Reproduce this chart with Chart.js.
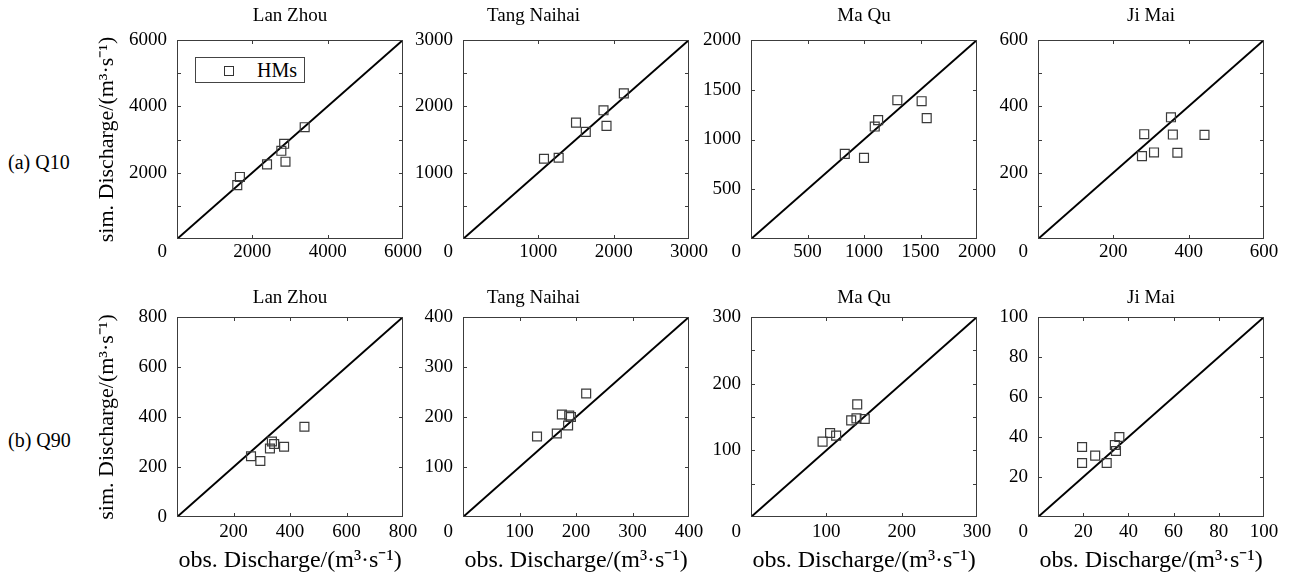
<!DOCTYPE html>
<html>
<head>
<meta charset="utf-8">
<title>Q10 / Q90 discharge</title>
<script src="https://cdn.jsdelivr.net/npm/chart.js@4.4.1/dist/chart.umd.min.js"></script>
<style>
  body { margin: 0; background: #fff; width: 1291px; height: 573px; position: relative; overflow: hidden;
         font-family: 'Liberation Serif', 'Times New Roman', serif; color: #000; }
  .panel { position: absolute; }
  .rowlabel { position: absolute; left: 8px; font-size: 20px; line-height: 24px; white-space: nowrap; }
  #legend { position: absolute; left: 195px; top: 57px; width: 108px; height: 24px; border: 1px solid #444;
            background: #fff; z-index: 5; font-size: 20px; line-height: 24px; }
  #legend .mark { position: absolute; left: 28px; top: 8px; width: 8px; height: 8px; border: 1px solid #333; }
  #legend .txt { position: absolute; left: 61px; top: 0; }
</style>
</head>
<body>
<div class="rowlabel" style="top:150px">(a) Q10</div>
<div class="rowlabel" style="top:428px">(b) Q90</div>
<div id="legend"><span class="mark"></span><span class="txt">HMs</span></div>

<script>
// stations, one column each
const stations = ['Lan Zhou', 'Tang Naihai', 'Ma Qu', 'Ji Mai'];

// Q10: observed (x) vs simulated (y) discharge, m3/s
const lanZhouQ10Obs = [3390, 2845, 2770, 2880, 2390, 1670, 1600];
const lanZhouQ10Sim = [3370, 2870, 2660, 2330, 2250, 1870, 1625];
const tangNaihaiQ10Obs = [2135, 1865, 1905, 1500, 1630, 1270, 1075];
const tangNaihaiQ10Sim = [2195, 1940, 1705, 1755, 1615, 1225, 1210];
const maQuQ10Obs = [1295, 1510, 1555, 1125, 1095, 830, 1000];
const maQuQ10Sim = [1395, 1385, 1215, 1195, 1130, 855, 815];
const jiMaiQ10Obs = [353, 282, 358, 442, 308, 370, 276];
const jiMaiQ10Sim = [367, 316, 315, 314, 261, 260, 250];

// Q90
const lanZhouQ90Obs = [451, 336, 344, 329, 379, 262, 295];
const lanZhouQ90Sim = [361, 302, 292, 274, 281, 243, 224];
const tangNaihaiQ90Obs = [218, 175, 188, 191, 186, 166, 131];
const tangNaihaiQ90Sim = [247, 205, 203, 200, 183, 167, 161];
const maQuQ90Obs = [141, 133, 140, 151, 105, 113, 95];
const maQuQ90Sim = [169, 145, 148, 147, 126, 122, 113];
const jiMaiQ90Obs = [36, 34, 34.5, 19.5, 25.3, 30.4, 19.5];
const jiMaiQ90Sim = [40, 36, 33, 35, 30.7, 27, 27];

// axis ranges and tick spacing per column
const q10Max = [6000, 3000, 2000, 600];
const q10XStep = [2000, 1000, 500, 200];
const q10YStep = [1000, 500, 500, 100];
const q10YLabelEvery = [2000, 1000, 500, 200];
const q90Max = [800, 400, 300, 100];
const q90XStep = [200, 100, 100, 20];
const q90YStep = [200, 100, 50, 20];
const q90YLabelEvery = [200, 100, 100, 20];

const unitText = 'Discharge/(m\u00b3\u00b7s\u207b\u00b9)';
const serif = "'Liberation Serif', 'Times New Roman', serif";
const tickSize = 19;

Chart.defaults.color = '#000';
Chart.defaults.font.family = serif;
Chart.defaults.font.size = tickSize;

// box around the plot with inward ticks on all four sides
const frameTicks = {
  id: 'frameTicks',
  afterDraw(chart, args, opts) {
    const { ctx, chartArea: a, scales: { x, y } } = chart;
    ctx.save();
    ctx.strokeStyle = '#3c3c3c';
    ctx.lineWidth = 1;
    ctx.beginPath();
    x.ticks.forEach(t => {
      const px = Math.round(x.getPixelForValue(t.value)) + 0.5;
      if (px <= a.left + 2 || px >= a.right - 2) return;
      ctx.moveTo(px, a.bottom); ctx.lineTo(px, a.bottom - 4);
      ctx.moveTo(px, a.top); ctx.lineTo(px, a.top + 4);
    });
    y.ticks.forEach(t => {
      const py = Math.round(y.getPixelForValue(t.value)) + 0.5;
      if (py <= a.top + 2 || py >= a.bottom - 2) return;
      ctx.moveTo(a.left, py); ctx.lineTo(a.left + 4, py);
      ctx.moveTo(a.right, py); ctx.lineTo(a.right - 4, py);
    });
    ctx.stroke();
    ctx.strokeRect(a.left + 0.5, a.top + 0.5, a.width - 1, a.height - 1);
    // shared zero in the lower-left corner
    if (opts.zero) {
      ctx.fillStyle = '#000';
      ctx.font = tickSize + 'px ' + serif;
      ctx.textAlign = 'right';
      ctx.textBaseline = 'middle';
      ctx.fillText('0', a.left - 10, a.bottom + opts.gap + tickSize * 0.6);
    }
    ctx.restore();
  }
};
Chart.register(frameTicks);

const colLeft = [177, 463, 751, 1038];
const rowTop = [40, 317];
const plotW = 226;

function makePanel(row, col, obs, sim, max, xStep, yStep, yLabelEvery) {
  const padL = 85, padT = 40, padR = 50;
  const padB = row === 0 ? 30 : 58;
  const plotH = row === 0 ? 199 : 200;
  const labelGap = row === 0 ? 2 : 4;
  const keepYZero = row === 1 && col === 0;

  const div = document.createElement('div');
  div.className = 'panel';
  div.style.left = (colLeft[col] - padL) + 'px';
  div.style.top = (rowTop[row] - padT) + 'px';
  const canvas = document.createElement('canvas');
  canvas.width = padL + plotW + padR;
  canvas.height = padT + plotH + padB;
  div.appendChild(canvas);
  document.body.appendChild(div);

  const points = obs.map((v, i) => ({ x: v, y: sim[i] }));

  new Chart(canvas, {
    type: 'scatter',
    data: {
      datasets: [
        {
          label: 'HMs',
          data: points,
          pointStyle: 'rect',
          pointRadius: 6.3,
          pointBorderWidth: 1.2,
          borderColor: '#3a3a3a',
          backgroundColor: 'rgba(0,0,0,0)',
          order: 1
        },
        {
          type: 'line',
          label: '1:1',
          data: [{ x: 0, y: 0 }, { x: max, y: max }],
          borderColor: '#000',
          borderWidth: 2,
          pointRadius: 0,
          order: 2
        }
      ]
    },
    options: {
      responsive: false,
      animation: false,
      layout: { padding: { right: padR } },
      plugins: {
        legend: { display: false },
        tooltip: { enabled: false },
        title: {
          display: true,
          text: stations[col],
          // Tang Naihai sits over the whole panel incl. its tick labels
          fullSize: col === 1,
          font: { size: 19, weight: 'normal' },
          padding: row === 0 ? { top: 4.6, bottom: 12.6 } : { top: 9.6, bottom: 7.6 }
        },
        frameTicks: { zero: !keepYZero, gap: labelGap }
      },
      scales: {
        x: {
          type: 'linear',
          min: 0,
          max: max,
          grid: { display: false, drawTicks: false },
          border: { display: false },
          ticks: {
            stepSize: xStep,
            autoSkip: false,
            maxRotation: 0,
            padding: labelGap,
            callback: v => (v === 0 ? '' : v)
          },
          title: {
            display: row === 1,
            text: 'obs. ' + unitText,
            font: { size: 24 },
            padding: { top: 0, bottom: 0 }
          },
          afterFit: s => { s.height = padB; }
        },
        y: {
          type: 'linear',
          min: 0,
          max: max,
          grid: { display: false, drawTicks: false },
          border: { display: false },
          ticks: {
            stepSize: yStep,
            autoSkip: false,
            padding: 10,
            callback: v => {
              if (v === 0) return keepYZero ? '0' : '';
              return v % yLabelEvery === 0 ? v : '';
            }
          },
          title: {
            display: col === 0,
            text: 'sim. ' + unitText,
            font: { size: 22 },
            padding: { top: 2, bottom: 0 }
          },
          afterFit: s => { s.width = padL; }
        }
      }
    }
  });
}

const obsQ10 = [lanZhouQ10Obs, tangNaihaiQ10Obs, maQuQ10Obs, jiMaiQ10Obs];
const simQ10 = [lanZhouQ10Sim, tangNaihaiQ10Sim, maQuQ10Sim, jiMaiQ10Sim];
const obsQ90 = [lanZhouQ90Obs, tangNaihaiQ90Obs, maQuQ90Obs, jiMaiQ90Obs];
const simQ90 = [lanZhouQ90Sim, tangNaihaiQ90Sim, maQuQ90Sim, jiMaiQ90Sim];

for (let c = 0; c < 4; c++) {
  makePanel(0, c, obsQ10[c], simQ10[c], q10Max[c], q10XStep[c], q10YStep[c], q10YLabelEvery[c]);
  makePanel(1, c, obsQ90[c], simQ90[c], q90Max[c], q90XStep[c], q90YStep[c], q90YLabelEvery[c]);
}
</script>
</body>
</html>
